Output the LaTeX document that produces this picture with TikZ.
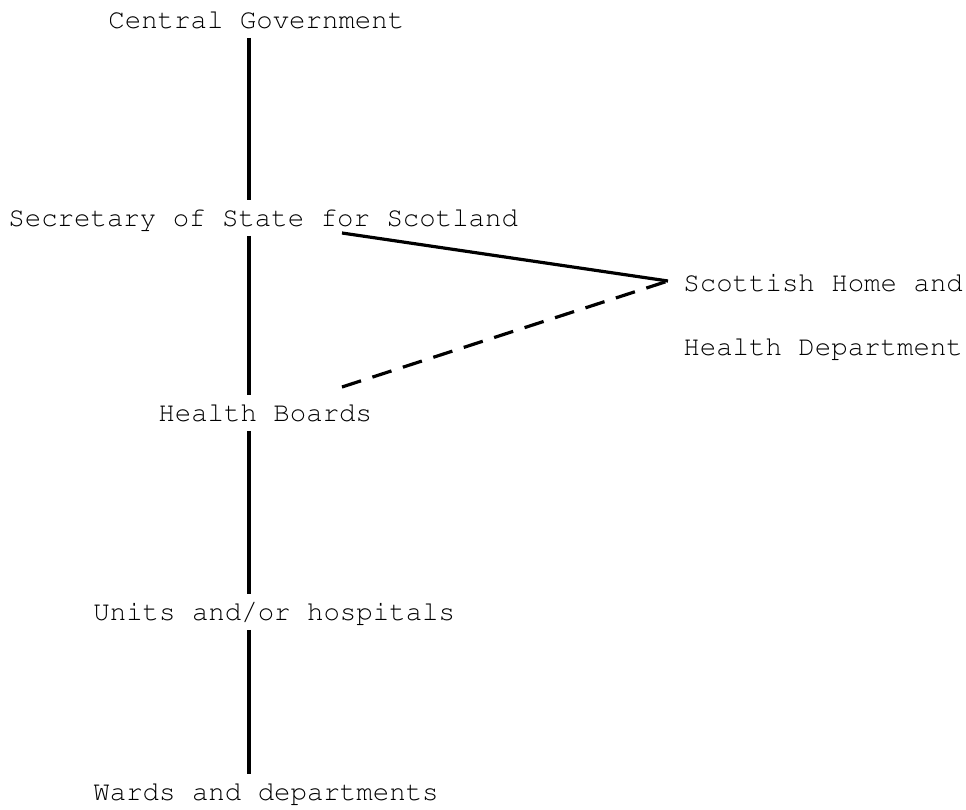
\documentclass[tikz,border=0pt]{standalone}
\usepackage[T1]{fontenc}
\renewcommand{\ttdefault}{pcr}
\usepackage{pdfrender}
\usepackage{tikz}
\usetikzlibrary{positioning,calc}

\newcommand{\typed}[1]{\textpdfrender{TextRenderingMode=FillStroke,LineWidth=0.35pt}{#1}}

\begin{document}
\begin{tikzpicture}[
  x=0.5pt, y=-0.5pt,
  font=\ttfamily\fontsize{13.7}{16}\selectfont,
  lbl/.style={anchor=base west, inner xsep=0pt, inner ysep=0pt, text height=12.6pt, text depth=4.7pt},
  link/.style={line width=1.6pt},
  weak/.style={line width=1.6pt, dash pattern=on 10pt off 6pt}
]
\useasboundingbox (0,0) rectangle (966,810);
\coordinate (spine) at (249,0);
\node[lbl] (cg) at (108,28) {\typed{Central Government}};
\node[lbl] (sos) at (8,226) {\typed{Secretary of State for Scotland}};
\node[lbl] (shhd) at (683,291) {\typed{Scottish Home and}};
\node[lbl] (shhd2) at (683,355) {\typed{Health Department}};
\node[lbl] (hb) at (158,421) {\typed{Health Boards}};
\node[lbl] (units) at (93,620) {\typed{Units and/or hospitals}};
\node[lbl] (wards) at (93,800) {\typed{Wards and departments}};
\coordinate (apex) at (668,281);
\coordinate (sosfoot) at (342,233);
\coordinate (hbtip) at (342,387);
\draw[link] (spine |- cg.south) -- (spine |- sos.north);
\draw[link] (spine |- sos.south) -- (spine |- hb.north);
\draw[link] (spine |- hb.south) -- (spine |- units.north);
\draw[link] (spine |- units.south) -- (spine |- wards.north);
\draw[link] (sosfoot) -- (apex);
\draw[weak] (hbtip) -- (apex);
\end{tikzpicture}
\end{document}
